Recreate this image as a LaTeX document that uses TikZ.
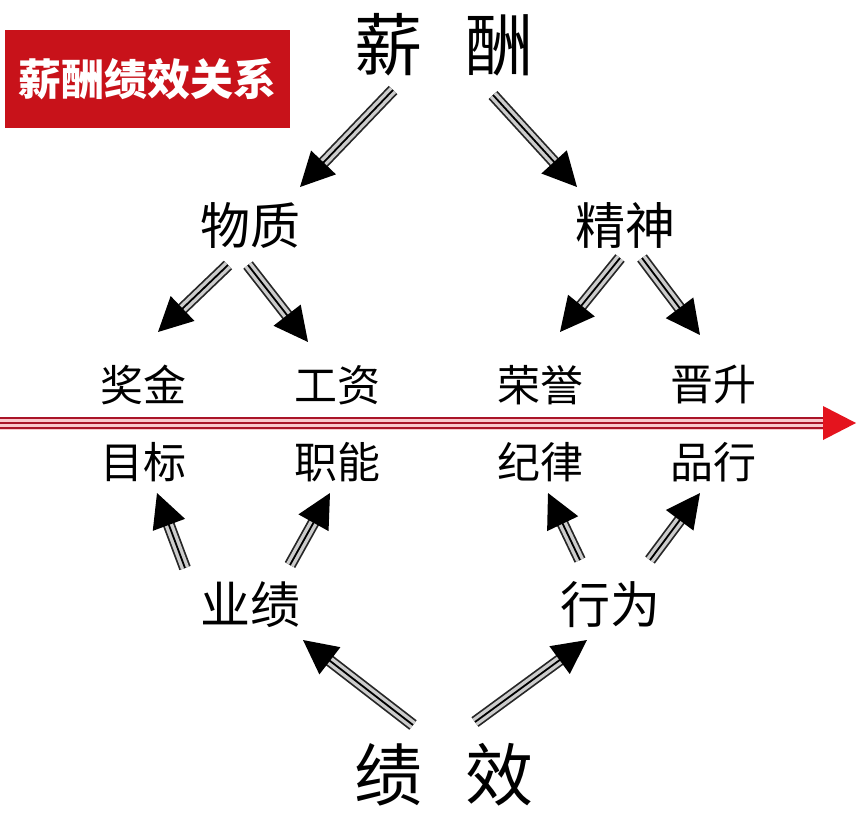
\documentclass[tikz,border=0pt]{standalone}
\usepackage{fontspec}
\setmainfont{Noto Sans CJK SC}
\usetikzlibrary{arrows.meta}
\definecolor{boxred}{RGB}{200,18,26}
\definecolor{linered}{RGB}{170,20,40}
\definecolor{pinkband}{RGB}{250,200,205}
\definecolor{headred}{RGB}{228,20,30}
\begin{document}
\begin{tikzpicture}[x=1pt,y=-1pt,
  lbl/.style={inner sep=0pt, text=black},
  big/.style={lbl, font=\fontsize{68}{70}\selectfont},
  mid/.style={lbl, font=\fontsize{50}{52}\selectfont},
  small/.style={lbl, font=\fontsize{43}{45}\selectfont},
  bigarrow/.style={line width=1.8pt, draw=black,
    -{Triangle[length=34pt,width=34pt]},
    preaction={draw=black!85, line width=12pt, shorten >=28pt, arrows=-},
    preaction={draw=gray!40, line width=8.5pt, shorten >=28pt, arrows=-}}
]
\useasboundingbox (0,0) rectangle (858,820);
\fill[white] (0,0) rectangle (858,820);

% title box
\node[fill=boxred, minimum width=285pt, minimum height=98pt, inner sep=0pt,
  text=white, font=\fontsize{43}{45}\selectfont\bfseries] (title) at (147,79) {薪酬绩效关系};

% labels
\node[big] (xin) at (388,45) {薪};
\node[big] (chou) at (499,45) {酬};
\node[mid] (wuzhi) at (250,225) {物质};
\node[mid] (jingshen) at (625,225) {精神};
\node[small] (jiangjin) at (143,385) {奖金};
\node[small] (gongzi) at (337,385) {工资};
\node[small] (rongyu) at (540,385) {荣誉};
\node[small] (jinsheng) at (713,385) {晋升};
\node[small] (mubiao) at (143,462) {目标};
\node[small] (zhineng) at (337,462) {职能};
\node[small] (jilv) at (540,462) {纪律};
\node[small] (pinxing) at (713,462) {品行};
\node[mid] (yeji) at (250,605) {业绩};
\node[mid] (xingwei) at (610,605) {行为};
\node[big] (ji) at (388,775) {绩};
\node[big] (xiao) at (499,775) {效};

% red axis
\coordinate (axs) at (0,423);
\coordinate (axe) at (824,423);
\coordinate (axt) at (856,423);
\draw[pinkband, line width=13pt] (axs) -- (axe);
\draw[linered, line width=1.8pt] ([yshift=5pt]axs) -- ([yshift=5pt]axe);
\draw[linered, line width=1.8pt] (axs) -- (axe);
\draw[linered, line width=1.8pt] ([yshift=-5pt]axs) -- ([yshift=-5pt]axe);
\fill[headred] (823,406) -- (axt) -- (823,440) -- cycle;

% arrow end points
\coordinate (t1) at (393,90);  \coordinate (h1) at (300,187);
\coordinate (t2) at (493,95);  \coordinate (h2) at (577,187);
\coordinate (t3) at (228,265); \coordinate (h3) at (158,332);
\coordinate (t4) at (248,265); \coordinate (h4) at (308,342);
\coordinate (t5) at (620,258); \coordinate (h5) at (560,332);
\coordinate (t6) at (642,258); \coordinate (h6) at (700,335);
\coordinate (t7) at (185,568); \coordinate (h7) at (157,493);
\coordinate (t8) at (290,565); \coordinate (h8) at (330,493);
\coordinate (t9) at (580,560); \coordinate (h9) at (548,493);
\coordinate (t10) at (650,560); \coordinate (h10) at (700,493);
\coordinate (t11) at (413,725); \coordinate (h11) at (303,640);
\coordinate (t12) at (475,722); \coordinate (h12) at (587,640);

\foreach \i in {1,...,12} {\draw[bigarrow] (t\i) -- (h\i);}
\end{tikzpicture}
\end{document}
